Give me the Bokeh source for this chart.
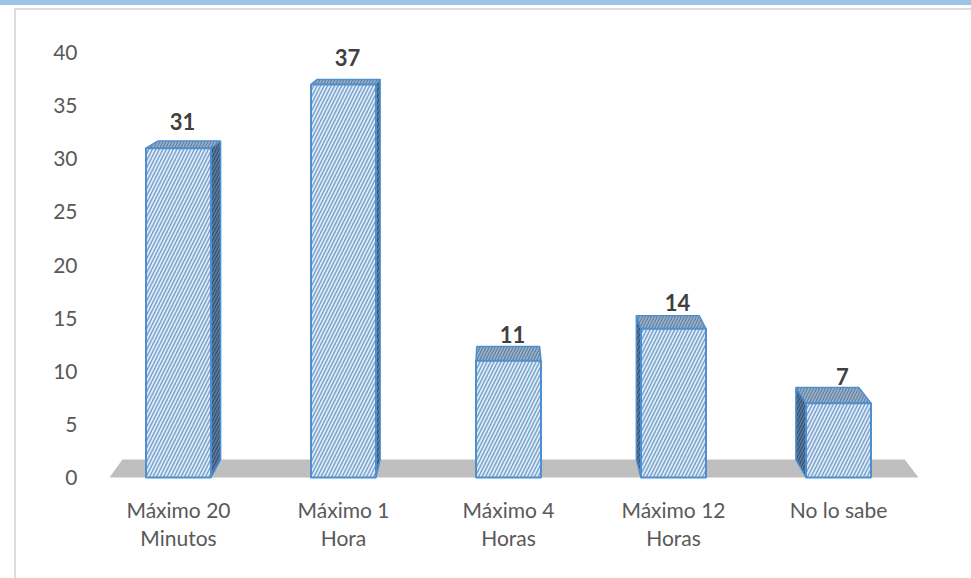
import numpy as np
from bokeh.plotting import figure
from bokeh.models import Range1d, FixedTicker, ColumnDataSource, Div
from bokeh.layouts import column, row
from bokeh.core.properties import value
from bokeh.embed import file_html
from bokeh.resources import INLINE

# ---- data ----
categories = ["Máximo 20\nMinutos", "Máximo 1\nHora", "Máximo 4\nHoras", "Máximo 12\nHoras", "No lo sabe"]
counts = [31, 37, 11, 14, 7]
y_ticks = [0, 5, 10, 15, 20, 25, 30, 35, 40]

# ---- style / geometry constants (page pixels) ----
W, H = 971, 578
OX, OY = 16, 10                # figure offset on page (frame decoration)
FW, FH = W - OX, H - OY
FRAME_L, FRAME_R, FRAME_T, FRAME_B = 93, 960, 12, 490
PX_PER_CAT = 165.0
PX_PER_UNIT = 10.625
X0_PX = 178.0      # page pixel of first category centre
Y0_PX = 477.0      # page pixel of value 0
BAR_W = 0.394
K = 0.0331         # perspective depth factor
VX, VY = 1.9515, 51.2  # vanishing point (data units)
FLOOR_PAD_L, FLOOR_PAD_R = 0.418, 0.485

x_start = (FRAME_L - X0_PX) / PX_PER_CAT
x_end = (FRAME_R - X0_PX) / PX_PER_CAT
y_end = (Y0_PX - FRAME_T) / PX_PER_UNIT
y_start = (Y0_PX - FRAME_B) / PX_PER_UNIT

FONT = "Lato"

def back(x, y):
    return x + K * (VX - x), y + K * (VY - y)

n = len(counts)
idx = np.arange(n, dtype=float)

p = figure(width=FW, height=FH, output_backend="svg", toolbar_location=None,
           x_range=Range1d(x_start, x_end), y_range=Range1d(y_start, y_end),
           min_border_left=FRAME_L - OX, min_border_right=W - FRAME_R,
           min_border_top=FRAME_T - OY, min_border_bottom=H - FRAME_B,
           margin=0)
p.outline_line_color = None
p.grid.visible = False
p.background_fill_color = "white"
p.border_fill_color = "white"

# floor
fl, fr = -FLOOR_PAD_L, (n - 1) + FLOOR_PAD_R
blx, bly = back(fl, 0)
brx, bry = back(fr, 0)
p.patch([fl, fr, brx, blx], [0, 0, bry, bly], fill_color="#bfbfbf", line_color=None)

# side and top faces
side_xs, side_ys, top_xs, top_ys = [], [], [], []
hw = BAR_W / 2
for i, v in zip(idx, counts):
    xl, xr = i - hw, i + hw
    bxl, byt = back(xl, v)
    bxr, _ = back(xr, v)
    _, byb = back(xl, 0)
    top_xs.append([xl, xr, bxr, bxl])
    top_ys.append([v, v, byt, byt])
    if VX > xr:
        side_xs.append([xr, xr, bxr, bxr])
        side_ys.append([0, v, byt, byb])
    elif VX < xl:
        side_xs.append([xl, xl, bxl, bxl])
        side_ys.append([0, v, byt, byb])

p.patches(side_xs, side_ys, fill_color="#5a7ba1", line_color="#4f8fcf", line_width=1.5,
          hatch_pattern="/", hatch_color="#34506f", hatch_scale=6, hatch_weight=1.2)
p.patches(top_xs, top_ys, fill_color="#9cb2ca", line_color="#4f8fcf", line_width=1.5,
          hatch_pattern="/", hatch_color="#5f7f9f", hatch_scale=6, hatch_weight=1.2)

# front faces
p.vbar(x=idx, top=counts, bottom=0, width=BAR_W, fill_color="#d9eaf9",
       line_color="#4f8fcf", line_width=2,
       hatch_pattern="/", hatch_color="#779cc4", hatch_scale=7, hatch_weight=1.3)

# value labels
src = ColumnDataSource(dict(x=idx, y=counts, t=[str(c) for c in counts]))
p.text(x="x", y="y", text="t", source=src, x_offset=4, y_offset=-18,
       text_align="center", text_baseline="bottom",
       text_font=value(FONT), text_font_style="bold", text_font_size="22px",
       text_color="#404040")

# axes
p.yaxis.ticker = FixedTicker(ticks=y_ticks)
p.yaxis.axis_line_color = None
p.yaxis.major_tick_line_color = None
p.yaxis.minor_tick_line_color = None
p.yaxis.major_label_text_font = FONT
p.yaxis.major_label_text_font_size = "21px"
p.yaxis.major_label_text_color = "#595959"
p.yaxis.major_label_standoff = 10

p.xaxis.ticker = FixedTicker(ticks=list(idx))
p.xaxis.major_label_overrides = {float(i): c for i, c in zip(idx, categories)}
p.xaxis.axis_line_color = None
p.xaxis.major_tick_line_color = None
p.xaxis.minor_tick_line_color = None
p.xaxis.major_label_text_font = FONT
p.xaxis.major_label_text_font_size = "21px"
p.xaxis.major_label_text_color = "#595959"
p.xaxis.major_label_text_line_height = 1.15
p.xaxis.major_label_standoff = 0

# page frame decoration (band + thin grey borders)
band = Div(width=W, height=5, margin=0, styles={"background-color": "#9dc3e6"})
gap = Div(width=W, height=3, margin=0)
topline = row(Div(width=OX - 2, height=2, margin=0),
              Div(width=W - OX + 2, height=2, margin=0, styles={"background-color": "#dcdcdc"}),
              spacing=0)
leftline = Div(width=2, height=FH, margin=0, styles={"background-color": "#dcdcdc"})
body = row(Div(width=OX - 2, height=FH, margin=0), leftline, p, spacing=0)
layout = column(band, gap, topline, body, spacing=0)

open("out.html", "w").write(file_html(layout, INLINE))
